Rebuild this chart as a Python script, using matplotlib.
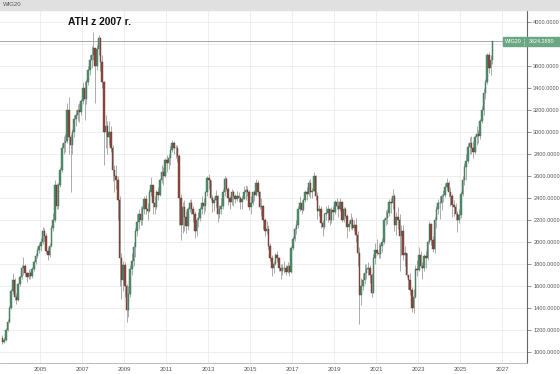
import matplotlib
matplotlib.use("Agg")
import matplotlib.pyplot as plt
import numpy as np
import pandas as pd

plt.rcParams["font.family"] = ["Liberation Sans", "DejaVu Sans"]

# monthly WIG20 candles, Mar 2003 .. Jul 2026 (open = previous close)
FIRST_OPEN = 1130
closes = [
    1090, 1110, 1200, 1270, 1400, 1550, 1650, 1500, 1470, 1614,                # 2003 (Mar-Dec)
    1680, 1760, 1780, 1720, 1680, 1720, 1690, 1750, 1820, 1870, 1930, 1960,    # 2004
    2000, 2100, 2050, 1920, 1880, 1960, 2130, 2200, 2520, 2330, 2520, 2655,    # 2005
    2850, 2900, 2920, 3200, 2950, 2880, 3000, 3120, 3150, 3200, 3180, 3286,    # 2006
    3400, 3300, 3450, 3560, 3650, 3700, 3760, 3600, 3750, 3850, 3640, 3457,    # 2007
    3000, 3050, 2950, 3000, 2850, 2650, 2600, 2560, 2380, 1850, 1650, 1789,    # 2008
    1600, 1380, 1530, 1750, 1830, 1950, 2100, 2180, 2250, 2200, 2300, 2389,    # 2009
    2300, 2280, 2450, 2520, 2350, 2320, 2450, 2430, 2560, 2640, 2600, 2744,    # 2010
    2720, 2760, 2840, 2900, 2850, 2850, 2780, 2400, 2150, 2320, 2230, 2144,    # 2011
    2300, 2350, 2300, 2250, 2100, 2200, 2220, 2300, 2350, 2330, 2450, 2583,    # 2012
    2560, 2400, 2350, 2380, 2420, 2250, 2300, 2330, 2450, 2570, 2480, 2401,    # 2013
    2360, 2450, 2420, 2390, 2420, 2400, 2360, 2390, 2450, 2470, 2450, 2316,    # 2014
    2350, 2450, 2430, 2540, 2450, 2320, 2330, 2200, 2100, 2120, 1960, 1859,    # 2015
    1760, 1800, 1880, 1850, 1760, 1740, 1760, 1760, 1730, 1780, 1730, 1948,    # 2016
    2030, 2120, 2150, 2300, 2350, 2290, 2380, 2450, 2440, 2540, 2450, 2462,    # 2017
    2600, 2420, 2280, 2300, 2170, 2140, 2250, 2260, 2300, 2200, 2290, 2277,    # 2018
    2360, 2330, 2300, 2360, 2200, 2300, 2240, 2140, 2160, 2200, 2130, 2151,    # 2019
    2060, 1900, 1520, 1600, 1650, 1720, 1750, 1760, 1700, 1540, 1850, 1927,    # 2020
    1900, 1890, 1960, 2000, 2200, 2220, 2260, 2360, 2350, 2420, 2150, 2230,    # 2021
    2200, 2050, 2100, 1880, 1900, 1700, 1650, 1560, 1400, 1500, 1750, 1747,    # 2022
    1880, 1780, 1760, 1870, 1850, 2000, 2160, 2020, 1940, 2200, 2300, 2351,    # 2023
    2350, 2420, 2430, 2500, 2540, 2450, 2420, 2340, 2320, 2250, 2200, 2248,    # 2024
    2440, 2560, 2680, 2740, 2860, 2900, 2850, 2820, 2950, 2980, 2960, 3100,    # 2025
    3200, 3350, 3450, 3700, 3580, 3650, 3824,                                  # 2026 (Jan-Jul)
]
highs = [
    1150, 1140, 1220, 1300, 1420, 1570, 1720, 1670, 1540, 1630,
    1700, 1790, 1860, 1800, 1730, 1750, 1740, 1770, 1840, 1900, 1950, 1990,
    2040, 2140, 2130, 2080, 1950, 1990, 2150, 2260, 2560, 2540, 2540, 2680,
    2900, 2960, 2980, 3260, 3320, 2980, 3030, 3150, 3200, 3250, 3260, 3300,
    3450, 3460, 3480, 3600, 3700, 3780, 3910, 3760, 3790, 3880, 3860, 3700,
    3460, 3150, 3100, 3100, 3050, 2880, 2700, 2700, 2600, 2420, 1900, 1830,
    1820, 1620, 1600, 1790, 1900, 2000, 2130, 2250, 2300, 2330, 2330, 2420,
    2430, 2350, 2480, 2590, 2520, 2420, 2470, 2500, 2580, 2700, 2680, 2760,
    2790, 2800, 2870, 2930, 2920, 2880, 2880, 2800, 2440, 2360, 2380, 2280,
    2320, 2380, 2390, 2330, 2280, 2230, 2270, 2320, 2420, 2400, 2460, 2600,
    2620, 2560, 2430, 2410, 2470, 2430, 2340, 2400, 2480, 2600, 2590, 2500,
    2420, 2480, 2470, 2440, 2460, 2450, 2420, 2420, 2510, 2520, 2510, 2470,
    2420, 2460, 2470, 2570, 2560, 2460, 2400, 2340, 2220, 2190, 2150, 1990,
    1880, 1830, 1900, 1920, 1860, 1800, 1800, 1830, 1790, 1820, 1790, 1960,
    2050, 2140, 2200, 2330, 2420, 2380, 2400, 2470, 2500, 2560, 2570, 2490,
    2640, 2610, 2450, 2340, 2330, 2200, 2260, 2330, 2340, 2310, 2320, 2330,
    2380, 2400, 2370, 2400, 2370, 2320, 2320, 2250, 2200, 2260, 2230, 2200,
    2220, 2100, 1950, 1670, 1720, 1800, 1800, 1820, 1790, 1720, 1890, 1990,
    2030, 1990, 1990, 2040, 2220, 2290, 2300, 2390, 2400, 2480, 2440, 2270,
    2320, 2250, 2150, 2150, 1960, 1900, 1700, 1720, 1590, 1570, 1790, 1840,
    1950, 1920, 1820, 1890, 1920, 2020, 2190, 2170, 2050, 2230, 2330, 2390,
    2420, 2440, 2470, 2540, 2580, 2550, 2500, 2440, 2380, 2350, 2280, 2300,
    2460, 2600, 2720, 2800, 2900, 2950, 2960, 2920, 2970, 3050, 3020, 3120,
    3240, 3400, 3480, 3720, 3730, 3700, 3830,
]
lows = [
    1070, 1080, 1100, 1190, 1260, 1390, 1530, 1470, 1440, 1460,
    1600, 1660, 1700, 1690, 1640, 1660, 1660, 1670, 1740, 1800, 1850, 1900,
    1920, 1980, 2010, 1900, 1840, 1860, 1950, 2100, 2180, 2300, 2300, 2500,
    2640, 2800, 2820, 2900, 2800, 2450, 2800, 2950, 3050, 3100, 3090, 3150,
    3250, 3110, 3250, 3430, 3520, 3580, 3650, 3260, 3560, 3700, 3550, 3400,
    2700, 2850, 2800, 2880, 2820, 2550, 2450, 2480, 2200, 1600, 1480, 1550,
    1500, 1270, 1320, 1500, 1700, 1780, 1860, 2050, 2120, 2150, 2150, 2250,
    2250, 2200, 2270, 2420, 2250, 2250, 2300, 2380, 2420, 2540, 2520, 2590,
    2640, 2660, 2700, 2820, 2800, 2760, 2730, 2150, 2020, 2080, 2100, 2080,
    2110, 2270, 2250, 2180, 2040, 2050, 2140, 2190, 2250, 2250, 2280, 2420,
    2480, 2380, 2270, 2280, 2320, 2180, 2220, 2250, 2300, 2420, 2460, 2340,
    2300, 2340, 2330, 2350, 2370, 2360, 2300, 2300, 2390, 2380, 2420, 2290,
    2250, 2340, 2370, 2420, 2420, 2300, 2240, 2120, 2050, 2070, 1940, 1830,
    1690, 1720, 1790, 1820, 1740, 1660, 1700, 1720, 1700, 1720, 1690, 1720,
    1930, 2010, 2070, 2130, 2280, 2250, 2280, 2360, 2380, 2420, 2400, 2400,
    2460, 2380, 2210, 2240, 2130, 2050, 2120, 2200, 2180, 2150, 2170, 2200,
    2250, 2300, 2230, 2280, 2180, 2180, 2220, 2040, 2100, 2120, 2110, 2100,
    2000, 1780, 1250, 1430, 1560, 1620, 1660, 1700, 1630, 1500, 1560, 1800,
    1880, 1850, 1850, 1910, 1980, 2150, 2160, 2240, 2260, 2300, 2100, 2060,
    2120, 1740, 1880, 1840, 1780, 1680, 1570, 1520, 1360, 1350, 1490, 1690,
    1740, 1760, 1660, 1740, 1760, 1840, 1980, 1970, 1910, 1900, 2130, 2250,
    2210, 2290, 2360, 2410, 2470, 2410, 2330, 2230, 2240, 2200, 2090, 2170,
    2220, 2420, 2520, 2560, 2720, 2800, 2800, 2760, 2800, 2880, 2900, 2940,
    3080, 3150, 3300, 3440, 3540, 3520, 3620,
]
LAST = 3824.2880
year_ticks = list(range(2005, 2028, 2))
price_ticks = list(range(1000, 4001, 200))

opens = np.array([FIRST_OPEN] + closes[:-1], dtype=float)
c = np.array(closes, dtype=float)
h = np.maximum(np.array(highs, dtype=float), np.maximum(opens, c))
l = np.minimum(np.array(lows, dtype=float), np.minimum(opens, c))
dates = pd.date_range("2003-03-01", periods=len(c), freq="MS")
x = dates.year + (dates.month - 0.5) / 12.0

W, H = 560, 374
fig = plt.figure(figsize=(W / 100, H / 100), dpi=100)
ax = fig.add_axes([0, 11 / H, 527 / W, 353 / H])

up = c >= opens
ax.vlines(x, l, h, color="#8c8c8c", lw=0.5, zorder=2)
body_lo = np.minimum(opens, c)
body_h = np.maximum(np.abs(c - opens), 4)
ax.bar(x[up], body_h[up], bottom=body_lo[up], width=0.065,
       color="#4f8f6c", edgecolor="#3c6e53", linewidth=0.3, zorder=3)
ax.bar(x[~up], body_h[~up], bottom=body_lo[~up], width=0.065,
       color="#93473a", edgecolor="#5e3a33", linewidth=0.3, zorder=3)

ax.axhline(LAST, color="#a8a8a8", lw=0.7, zorder=1)

ax.set_xlim(2005 - 40 / 21, 2005 + 487 / 21)
ax.set_ylim(900, 4109)
ax.set_xticks(year_ticks)
ax.set_xticklabels([str(y) for y in year_ticks])
ax.set_yticks(price_ticks)
ax.set_yticklabels(["%.4f" % p for p in price_ticks])
ax.yaxis.tick_right()
ax.grid(True, color="#ebebeb", lw=0.6, zorder=0)
ax.set_axisbelow(True)
for s in ["left", "top"]:
    ax.spines[s].set_visible(False)
ax.spines["right"].set_color("#666666")
ax.spines["right"].set_linewidth(0.8)
ax.spines["bottom"].set_color("#b0b0b0")
ax.spines["bottom"].set_linewidth(0.6)
ax.tick_params(axis="y", length=3, width=0.5, color="#666666", pad=1.5,
               labelsize=4.1, labelcolor="#555555")
ax.tick_params(axis="x", length=0, pad=3, labelsize=4.3, labelcolor="#555555")

# header bar
fig.patches.append(plt.Rectangle((0, 1 - 10 / H), 1, 10 / H, transform=fig.transFigure,
                                 color="#e0e0e0", zorder=0))
fig.text(3 / W, 1 - 5 / H, "WIG20", fontsize=4.3, color="#555555", va="center", ha="left")

# last price label
fig.patches.append(plt.Rectangle((503 / W, 1 - 46 / H), 57 / W, 9 / H,
                                 transform=fig.transFigure, color="#69a883", zorder=5))
fig.lines.append(plt.Line2D([524 / W, 524 / W], [1 - 45 / H, 1 - 38 / H],
                            transform=fig.transFigure, color="white", lw=0.5,
                            ls=(0, (1, 1)), zorder=6))
fig.text(513.5 / W, 1 - 41.5 / H, "WIG20", fontsize=3.9, color="white",
         va="center", ha="center", zorder=7)
fig.text(542 / W, 1 - 41.5 / H, "%.4f" % LAST, fontsize=3.9, color="white",
         va="center", ha="center", zorder=7)

fig.text(100 / W, 1 - 22 / H, "ATH z 2007 r.", fontsize=7.4, fontweight="bold",
         color="#111111", va="center", ha="center")

fig.savefig("out.png", dpi=100)
